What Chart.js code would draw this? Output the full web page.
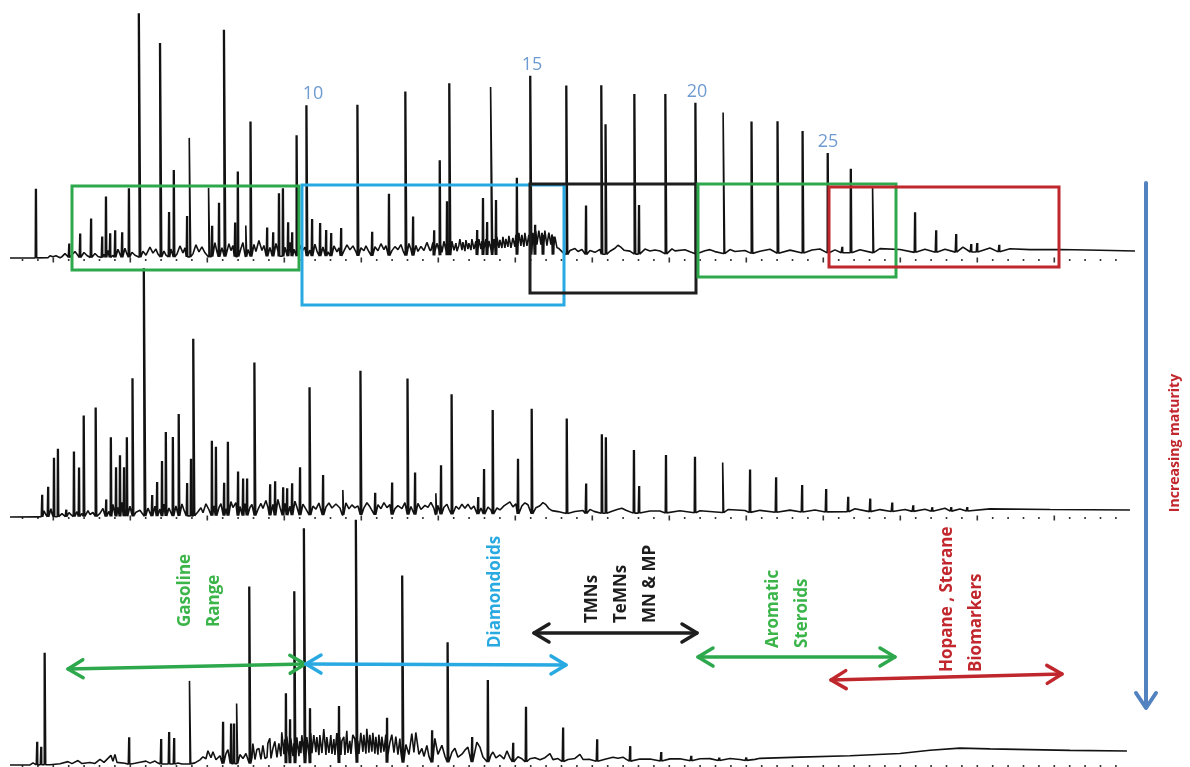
<!DOCTYPE html>
<html>
<head>
<meta charset="utf-8">
<script src="https://cdn.jsdelivr.net/npm/chart.js@4.4.1/dist/chart.umd.min.js"></script>
<style>
html, body { margin: 0; padding: 0; background: #fff; }
#wrap { position: relative; width: 1190px; height: 767px; }
</style>
</head>
<body>
<div id="wrap"><canvas id="gc" width="1190" height="767"></canvas></div>
<script>
// peaks: [retention, height above local baseline]
const topPeaks = [
  [36, 69], [69, 14], [80, 24], [91, 39], [102, 21], [106, 61], [110, 24], [115, 27], [122, 25], [129, 69],
  [140, 244], [161, 214], [169, 45], [174, 87], [187, 41], [190, 119], [209, 69], [212, 31], [219, 54], [225, 227],
  [235, 34], [238, 85], [246, 31], [251, 135], [267, 29], [273, 24], [279, 63], [283, 68], [288, 34], [292, 24],
  [297, 121], [307, 151], [312, 37], [320, 33], [326, 26], [331, 23], [341, 28], [358, 151], [372, 24], [389, 62],
  [406, 164], [413, 39], [434, 25], [440, 95], [447, 54], [450, 172], [477, 25], [483, 57], [487, 33], [492, 168],
  [496, 55], [517, 77], [531, 179], [535, 30], [543, 20], [553, 18], [567, 169], [586, 49], [602, 169], [606, 130],
  [635, 160], [639, 49], [666, 160], [696, 151], [724, 141], [752, 132], [778, 132], [803, 122], [828, 100], [842, 6],
  [851, 84], [873, 66], [915, 40], [936, 22], [956, 18], [971, 8], [977, 9], [999, 7]
];
const topGrass = [
  [10, 0], [20, 0], [48, 0], [50, 2], [53, 1], [56, 2], [60, 0],
  [62, 1], [65, 4], [68, 1], [72, 3], [75, 6], [78, 2], [84, 5], [87, 2], [95, 4], [98, 1],
  [104, 3], [108, 7], [113, 2], [118, 8], [120, 3], [125, 9], [127, 3], [132, 5], [135, 2], [143, 6], [146, 2],
  [150, 10], [153, 4], [156, 8], [158, 3], [164, 6], [166, 2], [171, 8], [177, 3], [180, 11], [183, 4], [185, 9],
  [193, 3], [196, 12], [199, 5], [202, 10], [205, 4], [215, 14], [217, 5], [222, 9], [229, 13], [231, 6], [233, 11],
  [241, 8], [243, 14], [248, 7], [254, 12], [256, 5], [259, 16], [262, 6], [264, 11], [270, 9], [276, 13], [278, 5],
  [285, 9], [290, 14], [294, 7], [300, 11], [302, 5], [305, 9], [310, 6], [315, 12], [317, 5], [323, 9], [328, 4],
  [334, 10], [337, 4], [339, 8], [344, 5], [347, 11], [350, 6], [353, 10], [356, 4], [361, 8], [364, 5], [366, 10],
  [369, 4], [375, 9], [378, 5], [381, 12], [384, 6], [386, 10], [392, 5], [395, 9], [398, 6], [401, 11], [403, 5],
  [409, 12], [411, 6], [416, 10], [418, 4], [421, 9], [424, 5], [427, 13], [430, 5],
  [560, 5], [563, 2], [570, 4], [575, 6], [578, 3], [582, 5], [590, 4], [595, 2], [600, 5], [610, 3], [615, 6], [618, 9],
  [621, 7], [624, 4], [630, 3], [645, 5], [650, 3], [655, 4], [660, 3], [672, 5], [675, 3], [685, 4], [690, 2],
  [705, 3], [710, 4], [715, 2], [730, 4], [735, 2], [745, 3], [760, 2], [770, 4], [790, 3], [812, 3], [820, 4],
  [835, 3], [860, 3], [880, 4], [900, 3], [925, 3], [945, 3], [963, 5], [990, 4], [1010, 3], [1030, 2], [1060, 2],
  [1100, 1], [1135, 0]
];
// dense unresolved band of the top trace
const topGrassFine = [
  [431, 5], [433, 13], [435, 4], [437, 12], [439, 5], [441, 10], [442, 3], [444, 14], [446, 5], [448, 12], [449, 4],
  [452, 14], [454, 5], [456, 12], [457, 4], [459, 10], [460, 16], [462, 5], [463, 13], [465, 4], [466, 15], [468, 6],
  [469, 12], [471, 5], [472, 16], [474, 6], [476, 14], [478, 5], [479, 16], [481, 6], [482, 14], [484, 6], [486, 16],
  [488, 6], [489, 14], [491, 6], [494, 16], [495, 7], [497, 18], [499, 7], [500, 15], [502, 7], [503, 18],
  [505, 7], [506, 16], [508, 8], [509, 19], [511, 7], [513, 17], [515, 8], [516, 20], [518, 8], [519, 22],
  [521, 9], [522, 20], [524, 8], [525, 22], [527, 9], [529, 20], [530, 9], [533, 22], [534, 10], [536, 24],
  [537, 10], [539, 24], [541, 10], [542, 22], [544, 11], [545, 24], [547, 9], [549, 22], [551, 10], [552, 20],
  [554, 9], [555, 18], [557, 7], [559, 6]
];

const midPeaks = [
  [42, 22], [48, 30], [54, 59], [58, 68], [66, 7], [74, 65], [79, 49], [84, 101], [96, 109], [106, 17],
  [111, 79], [116, 49], [120, 61], [124, 49], [127, 79], [133, 138], [145, 248], [152, 21], [157, 34], [162, 55],
  [166, 84], [173, 79], [179, 102], [187, 33], [191, 57], [194, 177], [212, 75], [216, 69], [224, 33], [228, 74],
  [238, 44], [243, 37], [247, 37], [255, 153], [270, 31], [275, 34], [283, 28], [287, 27], [292, 32], [300, 48],
  [310, 128], [323, 40], [343, 25], [361, 144], [375, 22], [392, 32], [408, 136], [415, 42], [436, 21], [441, 49],
  [452, 120], [478, 17], [484, 45], [493, 104], [518, 55], [532, 105], [567, 95], [586, 30], [602, 79], [606, 76],
  [634, 63], [639, 27], [666, 58], [695, 56], [723, 50], [750, 43], [776, 35], [802, 27], [826, 23], [848, 15],
  [870, 13], [892, 9], [913, 6], [932, 4], [951, 4], [967, 4]
];
const midGrass = [
  [10, 0], [38, 0], [44, 6], [46, 2], [51, 8], [52, 3], [62, 3], [69, 4], [71, 2], [77, 5], [82, 3], [88, 6],
  [90, 2], [93, 4], [100, 3], [103, 8], [109, 5], [113, 12], [118, 9], [122, 14], [126, 6], [130, 10], [136, 4],
  [140, 6], [148, 8], [155, 10], [160, 7], [164, 12], [169, 8], [176, 10], [182, 12], [184, 6], [198, 4], [201, 8],
  [203, 3], [206, 12], [209, 6], [214, 10], [219, 8], [221, 12], [226, 7], [231, 14], [233, 8], [236, 13], [240, 9],
  [245, 12], [250, 8], [252, 11], [258, 6], [261, 12], [263, 7], [266, 15], [268, 8], [273, 11], [278, 16], [280, 8],
  [285, 12], [290, 9], [295, 14], [297, 8], [303, 11], [306, 6], [313, 9], [316, 6], [319, 12], [326, 8], [329, 12],
  [332, 7], [336, 11], [340, 7], [346, 12], [349, 6], [352, 10], [355, 7], [358, 9], [364, 7], [367, 12], [370, 8],
  [378, 10], [381, 6], [384, 12], [387, 7], [390, 10], [395, 6], [398, 9], [402, 6], [405, 12], [411, 8], [418, 11],
  [421, 5], [425, 9], [428, 7], [431, 12], [434, 6], [438, 9], [444, 7], [447, 10], [449, 5], [456, 8], [459, 5],
  [462, 10], [465, 6], [468, 10], [471, 5], [474, 8], [481, 6], [488, 7], [491, 4], [497, 6], [500, 4], [504, 8],
  [507, 10], [510, 12], [513, 7], [516, 10], [522, 8], [525, 11], [528, 9], [536, 6], [540, 8], [543, 11], [546, 9],
  [549, 5], [552, 3], [558, 2], [575, 2], [583, 3], [590, 4], [594, 2], [612, 2], [618, 4], [622, 5], [626, 3],
  [650, 2], [660, 2], [680, 2], [700, 2], [728, 3], [745, 2], [760, 2], [790, 2], [815, 2], [855, 3], [880, 2],
  [905, 2], [925, 2], [945, 3], [960, 2], [990, 2], [1050, 1], [1130, 0]
];

const lowPeaks = [
  [37, 23], [41, 18], [45, 112], [129, 27], [161, 25], [169, 32], [174, 26], [190, 83], [223, 42], [231, 40],
  [234, 40], [237, 60], [250, 177], [286, 70], [290, 44], [295, 172], [305, 235], [310, 55], [339, 57], [357, 243],
  [387, 45], [403, 187], [432, 32], [448, 120], [472, 25], [488, 82], [513, 19], [526, 55], [563, 34], [597, 22],
  [630, 15], [661, 9], [691, 5], [719, 3], [746, 3]
];
const lowGrass = [
  [10, 0], [30, 0], [33, 2], [50, 0], [60, 1], [68, 3], [72, 1], [78, 4], [82, 1], [90, 2], [95, 1], [100, 5],
  [104, 2], [111, 9], [113, 3], [115, 10], [117, 2], [125, 1], [135, 1], [140, 2], [146, 3], [150, 1], [155, 3],
  [158, 1], [178, 1], [182, 0], [195, 1], [200, 4], [203, 7], [206, 5], [208, 13], [211, 6], [213, 12], [216, 4],
  [218, 6], [220, 8], [226, 10], [228, 14], [240, 9], [243, 5], [246, 10],
  [390, 20], [392, 28], [394, 10], [396, 26], [398, 8], [400, 24], [401, 10], [406, 18], [409, 8], [412, 29], [414, 10],
  [416, 30], [419, 8], [422, 14], [424, 6], [427, 17], [429, 6], [435, 24], [438, 8], [442, 17], [445, 6],
  [452, 10], [455, 14], [458, 5], [462, 8], [465, 12], [468, 15], [470, 6], [477, 20], [480, 15], [483, 5],
  [491, 7], [493, 10], [496, 4], [500, 7], [504, 3], [507, 11], [510, 4], [518, 5], [522, 3], [530, 3], [535, 4],
  [540, 2], [545, 4], [550, 8], [553, 2], [558, 3], [568, 2], [575, 3], [580, 7], [583, 2], [590, 2], [605, 2],
  [613, 4], [618, 3], [623, 4], [626, 2], [640, 2], [650, 2], [670, 2], [680, 2], [700, 2], [710, 2], [730, 2],
  [740, 1], [755, 1], [760, 2], [800, 3], [850, 4], [900, 6], [930, 9], [960, 11], [990, 10], [1030, 9],
  [1070, 8], [1127, 7]
];
// dense unresolved band of the bottom trace
const lowGrassFine = [
  [252, 6], [253, 20], [255, 4], [257, 14], [259, 15], [261, 4], [263, 18], [265, 5], [267, 6], [268, 20], [270, 25],
  [271, 5], [273, 15], [275, 22], [277, 6], [279, 20], [281, 7], [282, 31], [284, 9], [285, 24], [287, 27],
  [289, 8], [291, 25], [293, 7], [294, 20], [297, 26], [299, 7], [300, 22], [301, 10], [302, 28], [304, 8],
  [307, 26], [309, 8], [311, 30], [312, 10], [314, 28], [316, 11], [317, 26], [319, 8], [320, 28], [322, 10],
  [324, 34], [326, 8], [327, 26], [329, 10], [331, 28], [332, 9], [334, 24], [335, 8], [337, 30], [338, 9],
  [340, 26], [341, 8], [342, 22], [344, 26], [345, 8], [347, 32], [348, 10], [350, 22], [351, 9], [353, 28],
  [355, 24], [356, 8], [358, 22], [359, 9], [361, 30], [363, 11], [364, 28], [366, 9], [367, 34], [369, 10],
  [370, 28], [372, 11], [373, 30], [375, 9], [376, 26], [378, 8], [379, 28], [381, 10], [382, 26], [384, 11],
  [386, 28], [388, 8]
];

// carbon number labels of the n-alkanes on the top trace
const carbonNumbers = ['10', '15', '20', '25'];
const carbonRetention = [307, 531, 696, 828];

// compound class windows
const regionLabels = [['Gasoline', 'Range'], ['Diamondoids'], ['TMNs', 'TeMNs', 'MN & MP'], ['Aromatic', 'Steroids'], ['Hopane , Sterane', 'Biomarkers']];
const regionStart = [72, 302, 530, 698, 829];
const regionEnd = [299, 564, 696, 896, 1059];

const maturityLabel = 'Increasing maturity';

// ---- layout / styles ----
const panelBase = [[258, 251], [517, 510], [765, 758]];   // baseline pixel at left (x=10) and right (x=1135)
const tickY = [260, 518, 766];
const regionColors = ['#2EA84C', '#29A9E1', '#1E1E1E', '#2EA84C', '#BF272D'];
const labelColors = ['#3BB54A', '#29A9E1', '#1E1E1E', '#3BB54A', '#C1272D'];
const boxTop = [186, 185, 184, 184, 187];
const boxBottom = [270, 305, 293, 277, 267];
const arrowX = [[68, 305], [306, 566], [534, 697], [698, 895], [831, 1062]];
const arrowY = [[669, 664], [664, 665], [633, 633], [657, 657], [680, 674]];
const labelX = [185, 495, 592, 773, 947];
const labelBottom = [627, 648, 623, 648, 672];
const carbonDx = [6, 1, 1, 0];
const labelFont = 'bold 17px "Open Sans"';

function buildTrace(peaks, grass) {
    const pts = grass.map(p => ({x: p[0], y: p[1]}));
    peaks.forEach(p => {
        pts.push({x: p[0] - 0.7, y: 0}, {x: p[0], y: p[1]}, {x: p[0] + 0.7, y: 0});
    });
    pts.sort((a, b) => a.x - b.x);
    return pts;
}

function traceDataset(peaks, grass, axis) {
    return {
        data: buildTrace(peaks, grass),
        yAxisID: axis,
        borderColor: '#121212',
        borderWidth: 1.6,
        borderJoinStyle: 'bevel',
        pointRadius: 0,
        tension: 0,
        fill: false,
        clip: false
    };
}

function baseAt(i, x) {
    const b = panelBase[i];
    return b[0] + (b[1] - b[0]) * (x - 10) / 1125;
}

function arrowHead(ctx, tx, ty, dx, dy, len, half) {
    // open chevron pointing along (dx, dy)
    const n = Math.hypot(dx, dy);
    const ux = dx / n, uy = dy / n;
    ctx.beginPath();
    ctx.moveTo(tx - ux * len - uy * half, ty - uy * len + ux * half);
    ctx.lineTo(tx, ty);
    ctx.lineTo(tx - ux * len + uy * half, ty - uy * len - ux * half);
    ctx.stroke();
}

const annotations = {
    id: 'annotations',
    beforeDatasetsDraw(chart) {
        const ctx = chart.ctx;
        const xs = chart.scales.x;
        ctx.save();
        ctx.fillStyle = '#333';
        for (let p = 0; p < 3; p++) {
            for (let k = -27; k <= 44; k++) {
                const x = xs.getPixelForValue(438.3 + 15.4 * k);
                const major = k % 5 === 0 && p < 2;
                ctx.fillRect(x - 0.8, tickY[p] - (major ? 2.5 : 1), 1.6, major ? 5 : 2);
            }
        }
        ctx.restore();
    },
    beforeDatasetDraw(chart, args) {
        const ctx = chart.ctx;
        const b = panelBase[args.index];
        const px = chart.scales.x.getPixelForValue(10);
        ctx.save();
        ctx.translate(px, b[0]);
        ctx.rotate(Math.atan2(b[1] - b[0], 1125));
        ctx.translate(-px, -b[0]);
    },
    afterDatasetDraw(chart) {
        chart.ctx.restore();
    },
    afterDatasetsDraw(chart) {
        const ctx = chart.ctx;
        const xs = chart.scales.x;
        ctx.save();

        // class windows on the top trace
        ctx.lineWidth = 3;
        regionStart.forEach((s, i) => {
            const x1 = xs.getPixelForValue(s), x2 = xs.getPixelForValue(regionEnd[i]);
            ctx.strokeStyle = regionColors[i];
            ctx.strokeRect(x1, boxTop[i], x2 - x1, boxBottom[i] - boxTop[i]);
        });

        // carbon numbers
        ctx.fillStyle = '#6E9BD1';
        ctx.font = '18px "Open Sans"';
        ctx.textAlign = 'center';
        ctx.textBaseline = 'middle';
        carbonNumbers.forEach((c, i) => {
            const rt = carbonRetention[i];
            const pk = topPeaks.find(p => p[0] === rt);
            const yTop = baseAt(0, rt) - pk[1];
            ctx.fillText(c, xs.getPixelForValue(rt) + carbonDx[i], yTop - 11);
        });

        // arrows on the bottom trace
        ctx.lineWidth = 3.5;
        ctx.lineCap = 'round';
        ctx.lineJoin = 'round';
        arrowX.forEach((ax, i) => {
            const x1 = xs.getPixelForValue(ax[0]), x2 = xs.getPixelForValue(ax[1]);
            const y1 = arrowY[i][0], y2 = arrowY[i][1];
            ctx.strokeStyle = regionColors[i];
            ctx.beginPath();
            ctx.moveTo(x1, y1);
            ctx.lineTo(x2, y2);
            ctx.stroke();
            arrowHead(ctx, x1, y1, x1 - x2, y1 - y2, 15, 9);
            arrowHead(ctx, x2, y2, x2 - x1, y2 - y1, 15, 9);
        });

        // rotated class labels
        ctx.font = labelFont;
        ctx.textAlign = 'left';
        ctx.textBaseline = 'middle';
        regionLabels.forEach((lines, i) => {
            ctx.fillStyle = labelColors[i];
            lines.forEach((t, j) => {
                ctx.save();
                ctx.translate(labelX[i] + j * 29, labelBottom[i]);
                ctx.rotate(-Math.PI / 2);
                ctx.fillText(t, 0, 0);
                ctx.restore();
            });
        });

        // maturity arrow
        ctx.strokeStyle = '#5382C0';
        ctx.lineWidth = 4;
        ctx.beginPath();
        ctx.moveTo(1146, 183);
        ctx.lineTo(1146, 707);
        ctx.stroke();
        arrowHead(ctx, 1146, 708, 0, 1, 15, 10);

        ctx.fillStyle = '#C1272D';
        ctx.font = 'bold 14px "Open Sans"';
        ctx.textAlign = 'center';
        ctx.save();
        ctx.translate(1175, 443);
        ctx.rotate(-Math.PI / 2);
        ctx.fillText(maturityLabel, 0, 0);
        ctx.restore();

        ctx.restore();
    }
};

new Chart(document.getElementById('gc').getContext('2d'), {
    type: 'line',
    data: {
        datasets: [
            traceDataset(topPeaks, topGrass.concat(topGrassFine), 'y0'),
            traceDataset(midPeaks, midGrass, 'y1'),
            traceDataset(lowPeaks, lowGrass.concat(lowGrassFine), 'y2')
        ]
    },
    options: {
        responsive: false,
        animation: false,
        events: [],
        layout: { padding: 0 },
        plugins: { legend: { display: false }, tooltip: { enabled: false } },
        scales: {
            x: { type: 'linear', min: 0, max: 1190, display: false },
            y0: { min: panelBase[0][0] - 767, max: panelBase[0][0], display: false },
            y1: { min: panelBase[1][0] - 767, max: panelBase[1][0], display: false },
            y2: { min: panelBase[2][0] - 767, max: panelBase[2][0], display: false }
        }
    },
    plugins: [annotations]
});
</script>
</body>
</html>
